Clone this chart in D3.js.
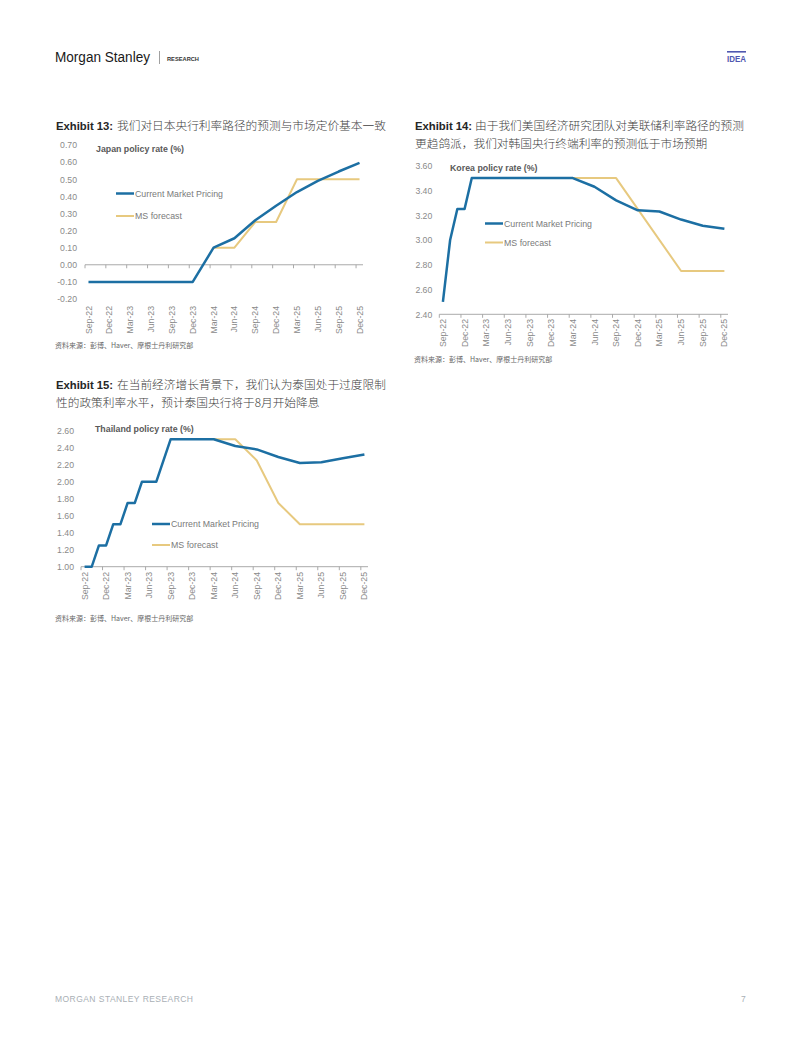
<!DOCTYPE html>
<html>
<head>
<meta charset="utf-8">
<script src="https://cdn.jsdelivr.net/npm/d3@7"></script>
<style>
  html, body { margin: 0; padding: 0; background: #fff; }
  svg { display: block; }
</style>
</head>
<body>
<svg id="page" width="802" height="1037"></svg>
<script>
// ---------------- DATA ----------------
const months = ["Sep-22","Oct-22","Nov-22","Dec-22","Jan-23","Feb-23","Mar-23","Apr-23","May-23","Jun-23",
  "Jul-23","Aug-23","Sep-23","Oct-23","Nov-23","Dec-23","Jan-24","Feb-24","Mar-24","Apr-24",
  "May-24","Jun-24","Jul-24","Aug-24","Sep-24","Oct-24","Nov-24","Dec-24","Jan-25","Feb-25",
  "Mar-25","Apr-25","May-25","Jun-25","Jul-25","Aug-25","Sep-25","Oct-25","Nov-25","Dec-25"];
const xTickLabels = ["Sep-22","Dec-22","Mar-23","Jun-23","Sep-23","Dec-23","Mar-24","Jun-24",
  "Sep-24","Dec-24","Mar-25","Jun-25","Sep-25","Dec-25"];
const seriesNames = ["Current Market Pricing", "MS forecast"];

// Japan
const japanYTicks = [-0.20,-0.10,0.00,0.10,0.20,0.30,0.40,0.50,0.60,0.70];
const japanMarketMonths = ["Sep-22","Dec-23","Mar-24","Jun-24","Sep-24","Dec-24","Mar-25","Jun-25","Sep-25","Dec-25"];
const japanMarketValues = [-0.10,-0.10,0.10,0.155,0.26,0.345,0.425,0.49,0.545,0.595];
const japanMsMonths = ["Mar-24","Jun-24","Sep-24","Dec-24","Mar-25","Dec-25"];
const japanMsValues = [0.10,0.10,0.25,0.25,0.50,0.50];

// Korea
const koreaYTicks = [2.40,2.60,2.80,3.00,3.20,3.40,3.60];
const koreaMarketMonths = ["Sep-22","Oct-22","Nov-22","Dec-22","Jan-23","Mar-24","Jun-24","Sep-24","Dec-24","Mar-25","Jun-25","Sep-25","Dec-25"];
const koreaMarketValues = [2.50,3.00,3.25,3.25,3.50,3.50,3.43,3.32,3.24,3.23,3.165,3.115,3.09];
const koreaMsMonths = ["Mar-24","Sep-24","Jun-25","Dec-25"];
const koreaMsValues = [3.50,3.50,2.75,2.75];

// Thailand
const thaiYTicks = [1.00,1.20,1.40,1.60,1.80,2.00,2.20,2.40,2.60];
const thaiMarketMonths = ["Sep-22","Oct-22","Nov-22","Dec-22","Jan-23","Feb-23","Mar-23","Apr-23","May-23","Jul-23","Sep-23","Mar-24","Jun-24","Sep-24","Dec-24","Mar-25","Jun-25","Sep-25","Dec-25"];
const thaiMarketValues = [1.00,1.00,1.25,1.25,1.50,1.50,1.75,1.75,2.00,2.00,2.50,2.50,2.42,2.38,2.29,2.22,2.23,2.275,2.32];
const thaiMsMonths = ["Mar-24","Jun-24","Sep-24","Dec-24","Mar-25","Dec-25"];
const thaiMsValues = [2.50,2.50,2.25,1.75,1.50,1.50];

// ---------------- STYLE ----------------
const BLUE = "#1c6fa3";
const GOLD = "#e7c97f";
const LATIN = "'Liberation Sans', Arial, sans-serif";
const CJK = "'Noto Sans CJK SC', 'Liberation Sans', sans-serif";

const svg = d3.select("#page");

// ---------------- HEADER / FOOTER ----------------
svg.append("text").attr("x", 55).attr("y", 62).text("Morgan Stanley")
  .attr("font-family", "'Liberation Sans Narrow', 'Liberation Sans', Arial, sans-serif")
  .attr("font-size", 15.5).attr("fill", "#1a1a1a")
  .attr("textLength", 95).attr("lengthAdjust", "spacingAndGlyphs");
svg.append("line").attr("x1", 159.5).attr("x2", 159.5).attr("y1", 51).attr("y2", 64)
  .attr("stroke", "#888").attr("stroke-width", 0.8);
svg.append("text").attr("x", 167).attr("y", 60.5).text("RESEARCH")
  .attr("font-family", LATIN).attr("font-weight", "bold").attr("font-size", 5.6)
  .attr("fill", "#333").attr("textLength", 32).attr("lengthAdjust", "spacingAndGlyphs");
svg.append("rect").attr("x", 727).attr("y", 51).attr("width", 19).attr("height", 1.6).attr("fill", "#5058b0");
svg.append("text").attr("x", 727).attr("y", 62).text("IDEA")
  .attr("font-family", LATIN).attr("font-weight", "bold").attr("font-size", 8.5)
  .attr("fill", "#5058b0").attr("textLength", 19).attr("lengthAdjust", "spacingAndGlyphs");

svg.append("text").attr("x", 55).attr("y", 1002).text("MORGAN STANLEY RESEARCH")
  .attr("font-family", LATIN).attr("font-size", 8.5).attr("fill", "#a9afb5")
  .attr("textLength", 138).attr("lengthAdjust", "spacing");
svg.append("text").attr("x", 741).attr("y", 1002).text("7")
  .attr("font-family", LATIN).attr("font-size", 8.5).attr("fill", "#a9afb5");

// ---------------- TITLES ----------------
function exhibitTitle(x, y, label, lines, cjkX) {
  const g = svg.append("g");
  g.append("text").attr("x", x).attr("y", y).text(label)
    .attr("font-family", LATIN).attr("font-weight", "bold").attr("font-size", 11.3).attr("fill", "#262626");
  lines.forEach((ln, i) => {
    g.append("text").attr("x", i === 0 ? cjkX : x).attr("y", y + i * 17.7).text(ln)
      .attr("font-family", CJK).attr("font-weight", 300).attr("font-size", 11.7).attr("fill", "#404040");
  });
}
exhibitTitle(56, 130, "Exhibit 13:", ["我们对日本央行利率路径的预测与市场定价基本一致"], 117);
exhibitTitle(415, 130, "Exhibit 14:", ["由于我们美国经济研究团队对美联储利率路径的预测", "更趋鸽派，我们对韩国央行终端利率的预测低于市场预期"], 475);
exhibitTitle(56, 389, "Exhibit 15:", ["在当前经济增长背景下，我们认为泰国处于过度限制", "性的政策利率水平，预计泰国央行将于8月开始降息"], 117);

function sourceNote(x, y) {
  svg.append("text").attr("x", x).attr("y", y).text("资料来源：彭博、Haver、摩根士丹利研究部")
    .attr("font-family", CJK).attr("font-size", 7).attr("fill", "#666");
}
sourceNote(55, 348);
sourceNote(414, 362);
sourceNote(55, 621);

// ---------------- CHART ----------------
function drawChart(o) {
  const g = svg.append("g");
  const x = d3.scaleBand().domain(months).range([o.x0, o.x1]).padding(0);
  const cx = m => x(m) + x.bandwidth() / 2;
  const y = d3.scaleLinear().domain(o.yDomain).range([o.yBottom, o.yTop]);

  // y axis labels
  const yAxis = d3.axisLeft(y).tickValues(o.yTicks).tickFormat(d => d.toFixed(2))
    .tickSize(0).tickPadding(o.yPad);
  const ya = g.append("g").attr("transform", `translate(${o.x0},0)`).call(yAxis);
  ya.select(".domain").remove();
  ya.selectAll("text").attr("font-family", LATIN).attr("font-size", 8.7).attr("fill", "#8a8a8a");

  // x axis line at axisValue
  const axY = y(o.axisValue);
  g.append("line").attr("x1", o.x0).attr("x2", o.x1).attr("y1", axY).attr("y2", axY)
    .attr("stroke", "#a0a0a0").attr("stroke-width", 0.9);
  months.forEach((m, i) => {
    if (i % 3 === 0) {
      g.append("line").attr("x1", x(m)).attr("x2", x(m)).attr("y1", axY).attr("y2", axY + 3.5)
        .attr("stroke", "#a0a0a0").attr("stroke-width", 0.9);
    }
  });
  xTickLabels.forEach(m => {
    g.append("text").attr("transform", `translate(${cx(m)},${o.labelTop}) rotate(-90)`)
      .attr("dy", "0.35em").attr("text-anchor", "end").text(m)
      .attr("font-family", LATIN).attr("font-size", 8.7).attr("fill", "#8a8a8a");
  });

  // lines
  const line = d3.line().x(d => cx(d[0])).y(d => y(d[1]));
  g.append("path").datum(d3.zip(o.msMonths, o.msValues)).attr("d", line)
    .attr("fill", "none").attr("stroke", GOLD).attr("stroke-width", 2).attr("stroke-linejoin", "round");
  g.append("path").datum(d3.zip(o.mktMonths, o.mktValues)).attr("d", line)
    .attr("fill", "none").attr("stroke", BLUE).attr("stroke-width", 2.5).attr("stroke-linejoin", "round");

  // chart title
  g.append("text").attr("x", o.titleX).attr("y", o.titleY).text(o.title)
    .attr("font-family", LATIN).attr("font-weight", "bold").attr("font-size", 8.8).attr("fill", "#595959");

  // legend
  const colors = [BLUE, GOLD], widths = [2.5, 2];
  seriesNames.forEach((s, i) => {
    const ly = o.legY[i];
    g.append("line").attr("x1", o.legX).attr("x2", o.legX + 18).attr("y1", ly).attr("y2", ly)
      .attr("stroke", colors[i]).attr("stroke-width", widths[i]);
    g.append("text").attr("x", o.legX + 19).attr("y", ly).attr("dy", "0.35em").text(s)
      .attr("font-family", LATIN).attr("font-size", 8.8).attr("fill", "#7a7a7a");
  });
}

drawChart({
  x0: 85, x1: 363, yDomain: [-0.2, 0.7], yBottom: 299, yTop: 145, yTicks: japanYTicks, yPad: 8,
  axisValue: 0, labelTop: 306,
  mktMonths: japanMarketMonths, mktValues: japanMarketValues,
  msMonths: japanMsMonths, msValues: japanMsValues,
  title: "Japan policy rate (%)", titleX: 96, titleY: 152,
  legX: 116, legY: [193.5, 216]
});

drawChart({
  x0: 439.3, x1: 728, yDomain: [2.4, 3.6], yBottom: 314.3, yTop: 165.7, yTicks: koreaYTicks, yPad: 7,
  axisValue: 2.4, labelTop: 319,
  mktMonths: koreaMarketMonths, mktValues: koreaMarketValues,
  msMonths: koreaMsMonths, msValues: koreaMsValues,
  title: "Korea policy rate (%)", titleX: 450, titleY: 170.5,
  legX: 485, legY: [223.5, 242.5]
});

drawChart({
  x0: 81, x1: 368, yDomain: [1.0, 2.6], yBottom: 566.7, yTop: 430.7, yTicks: thaiYTicks, yPad: 7,
  axisValue: 1.0, labelTop: 572,
  mktMonths: thaiMarketMonths, mktValues: thaiMarketValues,
  msMonths: thaiMsMonths, msValues: thaiMsValues,
  title: "Thailand policy rate (%)", titleX: 95, titleY: 431.5,
  legX: 152, legY: [524, 545]
});
</script>
</body>
</html>
